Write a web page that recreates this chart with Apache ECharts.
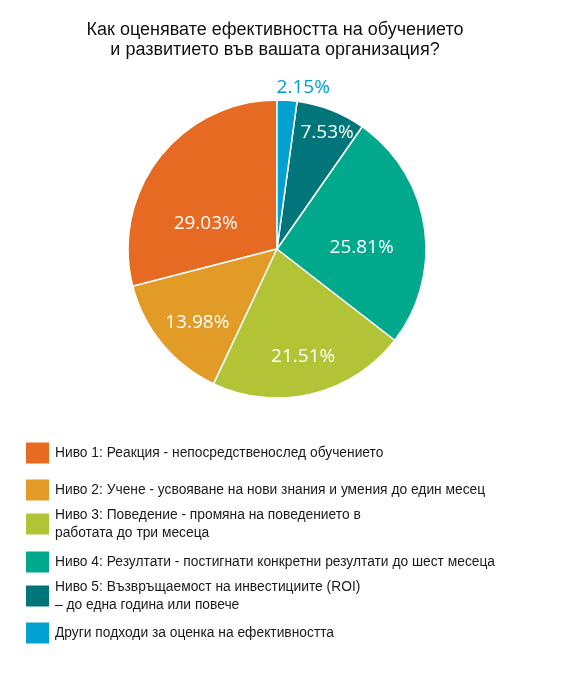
<!DOCTYPE html>
<html>
<head>
<meta charset="utf-8">
<script src="https://cdn.jsdelivr.net/npm/echarts@6/dist/echarts.min.js"></script>
<style>
	html, body { margin: 0; padding: 0; background: #fff; }
	#chart { width: 568px; height: 685px; }
</style>
</head>
<body>
<div id="chart"></div>
<script>
var titleText = 'Как оценявате ефективността на обучението\nи развитието във вашата организация?';

var categories = [
	'Ниво 1: Реакция - непосредственослед обучението',
	'Ниво 2: Учене - усвояване на нови знания и умения до един месец',
	'Ниво 3: Поведение - промяна на поведението в\nработата до три месеца',
	'Ниво 4: Резултати - постигнати конкретни резултати до шест месеца',
	'Ниво 5: Възвръщаемост на инвестициите (ROI)\n– до една година или повече',
	'Други подходи за оценка на ефективността'
];
var shares = [29.03, 13.98, 21.51, 25.81, 7.53, 2.15];

var colors = ['#e66a22', '#e39b27', '#b2c435', '#00a88c', '#00757a', '#00a0d0'];
// label nudges from the default inside spot
var labelShift = [[-10, 22], [-20, 24], [8, 32], [8, 10], [22, -44], [21, -84]];
// legend rows, top of each row
var legendTops = [440.5, 477.5, 506, 549.5, 578, 620.5];

var chart = echarts.init(document.getElementById('chart'));

var pieData = categories.map(function (name, i) {
	var item = { name: name, value: shares[i], itemStyle: { color: colors[i] } };
	if (i === categories.length - 1) {
		item.label = { color: colors[i] };
	}
	return item;
});

var legends = categories.map(function (name, i) {
	return {
		data: [name],
		orient: 'vertical',
		left: 24,
		top: legendTops[i],
		padding: 0,
		icon: 'rect',
		itemWidth: 25,
		itemHeight: 23,
		selectedMode: false,
		textStyle: {
			fontFamily: 'Liberation Sans, Arial, sans-serif',
			fontSize: 13.8,
			lineHeight: 18,
			color: '#1a1a1a'
		}
	};
});

chart.setOption({
	animation: false,
	title: {
		text: titleText,
		left: 275,
		top: 20,
		padding: 0,
		textAlign: 'center',
		textStyle: {
			fontFamily: 'Liberation Sans, Arial, sans-serif',
			fontSize: 18,
			fontWeight: 'normal',
			lineHeight: 20,
			color: '#111'
		}
	},
	legend: legends,
	series: [
		{
			type: 'pie',
			center: [277, 249],
			radius: [0, 149],
			startAngle: 90,
			clockwise: false,
			avoidLabelOverlap: false,
			itemStyle: {
				borderColor: '#fff',
				borderWidth: 1.5
			},
			label: {
				show: true,
				position: 'inside',
				formatter: function (p) {
					return p.value.toFixed(2) + '%';
				},
				fontFamily: 'Open Sans, Noto Sans, sans-serif',
				fontSize: 19,
				color: '#fff'
			},
			labelLine: { show: false },
			labelLayout: function (params) {
				var s = labelShift[params.dataIndex];
				return { dx: s[0], dy: s[1] };
			},
			emphasis: { disabled: true },
			data: pieData
		}
	]
});
</script>
</body>
</html>
